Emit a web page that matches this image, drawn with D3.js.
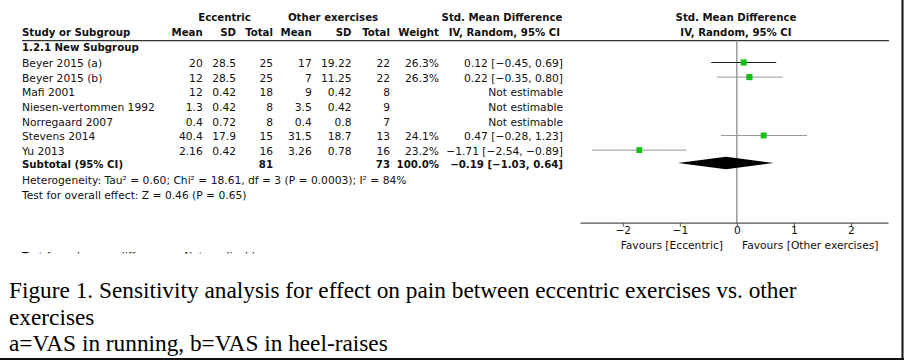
<!DOCTYPE html>
<html><head><meta charset="utf-8">
<script src="https://cdn.jsdelivr.net/npm/d3@7"></script>
<style>
html,body{margin:0;padding:0;background:#fff;}
svg{display:block;}
.t{font-family:"DejaVu Sans",sans-serif;font-size:10.7px;fill:#111;}
.b{font-weight:bold;font-size:10.2px;}
.cap{font-family:"Liberation Serif","Times New Roman",serif;font-size:23.3px;fill:#000;}
</style></head>
<body>
<svg id="c" width="904" height="360"></svg>
<script>
const studies = ["Beyer 2015 (a)", "Beyer 2015 (b)", "Mafi 2001", "Niesen-vertommen 1992", "Norregaard 2007", "Stevens 2014", "Yu 2013"];
const eccMean = [20, 12, 12, 1.3, 0.4, 40.4, 2.16];
const eccSD = [28.5, 28.5, 0.42, 0.42, 0.72, 17.9, 0.42];
const eccN = [25, 25, 18, 8, 8, 15, 16];
const othMean = [17, 7, 9, 3.5, 0.4, 31.5, 3.26];
const othSD = [19.22, 11.25, 0.42, 0.42, 0.8, 18.7, 0.78];
const othN = [22, 22, 8, 9, 7, 13, 16];
const weight = [26.3, 26.3, null, null, null, 24.1, 23.2];
const smd = [0.12, 0.22, null, null, null, 0.47, -1.71];
const ciLo = [-0.45, -0.35, null, null, null, -0.28, -2.54];
const ciHi = [0.69, 0.80, null, null, null, 1.23, -0.89];
const subtotal = {eccN: 81, othN: 73, weight: 100.0, smd: -0.19, lo: -1.03, hi: 0.64};
const axisTicks = [-2, -1, 0, 1, 2];
const captionLines = [
  "Figure 1. Sensitivity analysis for effect on pain between eccentric exercises vs. other",
  "exercises",
  "a=VAS in running, b=VAS in heel-raises"
];

const svg = d3.select("#c");
const fmt2 = v => v.toFixed(2).replace("-", "\u2212");
const ciText = (m, l, h) => `${fmt2(m)} [${fmt2(l)}, ${fmt2(h)}]`;

const rowY = d3.scaleLinear().domain([0, 1]).range([63.5, 78.1]);
const subgroupY = 47.5, subtotalY = 164.5;

const col = {eM: 202.7, eSD: 236, eN: 273, oM: 311.7, oSD: 351.5, oN: 390, w: 439, ci: 563};

function txt(x, y, s, anchor, bold) {
  svg.append("text").attr("class", "t" + (bold ? " b" : ""))
    .attr("x", x).attr("y", y).attr("dy", "0.35em")
    .attr("text-anchor", anchor || "start").text(s);
}

txt(224.5, 17.5, "Eccentric", "middle", true);
txt(333, 17.5, "Other exercises", "middle", true);
txt(502, 17.5, "Std. Mean Difference", "middle", true);
txt(736, 17.5, "Std. Mean Difference", "middle", true);
txt(22, 32.5, "Study or Subgroup", "start", true);
txt(col.eM, 32.5, "Mean", "end", true);
txt(col.eSD, 32.5, "SD", "end", true);
txt(col.eN, 32.5, "Total", "end", true);
txt(col.oM, 32.5, "Mean", "end", true);
txt(col.oSD, 32.5, "SD", "end", true);
txt(col.oN, 32.5, "Total", "end", true);
txt(col.w, 32.5, "Weight", "end", true);
txt(col.ci - 3, 32.5, "IV, Random, 95% CI", "end", true);
txt(736, 32.5, "IV, Random, 95% CI", "middle", true);

svg.append("line").attr("x1", 22).attr("x2", 889).attr("y1", 40.7).attr("y2", 40.7)
  .attr("stroke", "#333").attr("stroke-width", 1.2);

txt(22, subgroupY, "1.2.1 New Subgroup", "start", true);

studies.forEach((s, i) => {
  const y = rowY(i);
  txt(22, y, s);
  txt(col.eM, y, String(eccMean[i]), "end");
  txt(col.eSD, y, String(eccSD[i]), "end");
  txt(col.eN, y, String(eccN[i]), "end");
  txt(col.oM, y, String(othMean[i]), "end");
  txt(col.oSD, y, String(othSD[i]), "end");
  txt(col.oN, y, String(othN[i]), "end");
  if (weight[i] != null) txt(col.w, y, weight[i].toFixed(1) + "%", "end");
  txt(col.ci, y, smd[i] != null ? ciText(smd[i], ciLo[i], ciHi[i]) : "Not estimable", "end");
});

txt(22, subtotalY, "Subtotal (95% CI)", "start", true);
txt(col.eN, subtotalY, String(subtotal.eccN), "end", true);
txt(col.oN, subtotalY, String(subtotal.othN), "end", true);
txt(col.w, subtotalY, subtotal.weight.toFixed(1) + "%", "end", true);
txt(col.ci, subtotalY, ciText(subtotal.smd, subtotal.lo, subtotal.hi), "end", true);

txt(22, 180.5, "Heterogeneity: Tau\u00B2 = 0.60; Chi\u00B2 = 18.61, df = 3 (P = 0.0003); I\u00B2 = 84%");
txt(22, 195.5, "Test for overall effect: Z = 0.46 (P = 0.65)");

svg.append("clipPath").attr("id", "cut").append("rect").attr("x", 0).attr("y", 250).attr("width", 904).attr("height", 3.5);
svg.append("text").attr("class", "t").attr("clip-path", "url(#cut)")
  .attr("x", 22).attr("y", 260).attr("fill", "#888").text("Test for subgroup differences: Not applicable");

const x = d3.scaleLinear().domain([-2.75, 2.65]).range([580, 888]);
const axisY = 222.7;

svg.append("line").attr("x1", x(0)).attr("x2", x(0)).attr("y1", 40.7).attr("y2", axisY)
  .attr("stroke", "#999").attr("stroke-width", 1.5);

const g = svg.append("g");
studies.forEach((s, i) => {
  if (smd[i] == null) return;
  const y = rowY(i);
  g.append("line").attr("x1", x(ciLo[i])).attr("x2", x(ciHi[i])).attr("y1", y - 1).attr("y2", y - 1)
    .attr("stroke", i === 0 ? "#222" : "#999").attr("stroke-width", 1);
  const sz = Math.sqrt(weight[i]) * 1.2;
  g.append("rect").attr("x", x(smd[i]) - sz / 2).attr("y", y - 1 - sz / 2)
    .attr("width", sz).attr("height", sz).attr("fill", "#13c013");
});

const dy = subtotalY - 1.5, dh = 6.3;
svg.append("path")
  .attr("d", `M${x(subtotal.lo)},${dy} L${x(subtotal.smd)},${dy - dh} L${x(subtotal.hi)},${dy} L${x(subtotal.smd)},${dy + dh} Z`)
  .attr("fill", "#000");

const axis = d3.axisBottom(x).tickValues(axisTicks).tickSize(4).tickSizeOuter(0).tickPadding(0)
  .tickFormat(d => d < 0 ? "\u2212" + Math.abs(d) : String(d));
const ag = svg.append("g").attr("transform", `translate(0,${axisY})`).call(axis);
ag.select(".domain").attr("stroke", "#555").attr("stroke-width", 1.2);
ag.selectAll(".tick line").attr("stroke", "#555");
ag.selectAll(".tick text").attr("font-family", "DejaVu Sans, sans-serif").attr("font-size", "10.7px").attr("fill", "#111");

txt(723, 245.5, "Favours [Eccentric]", "end");
txt(742, 245.5, "Favours [Other exercises]", "start");

captionLines.forEach((s, i) => {
  svg.append("text").attr("class", "cap").attr("x", 9).attr("y", [298, 324.5, 351][i]).text(s);
});

svg.append("line").attr("x1", 902.5).attr("x2", 902.5).attr("y1", 0).attr("y2", 360).attr("stroke", "#111").attr("stroke-width", 2);
svg.append("line").attr("x1", 0).attr("x2", 904).attr("y1", 359).attr("y2", 359).attr("stroke", "#111").attr("stroke-width", 2);
</script>
</body></html>
